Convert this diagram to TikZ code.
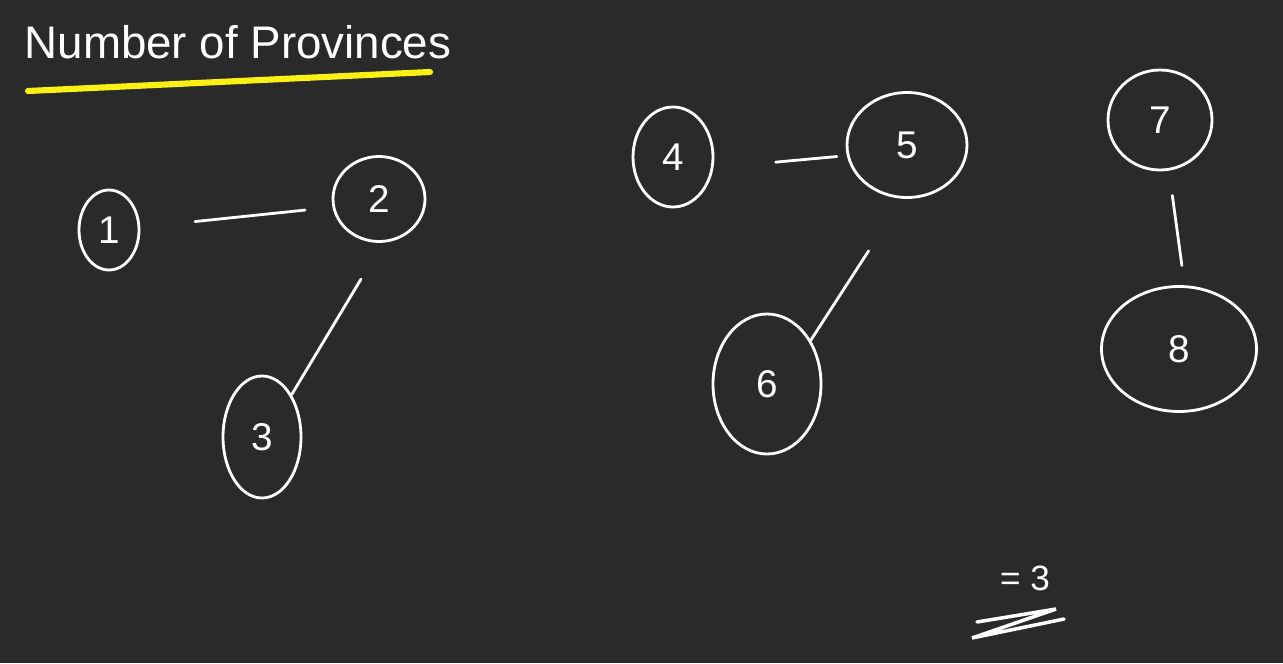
\documentclass[tikz,border=0pt]{standalone}
\usepackage{fontspec}
\setmainfont{Liberation Sans}
\usetikzlibrary{shapes.geometric}
\definecolor{board}{RGB}{42,42,42}
\definecolor{marker}{RGB}{250,240,20}
\begin{document}
\begin{tikzpicture}
[x=0.02cm,y=-0.02cm,
  nodedecorate/.style={shape=ellipse,inner sep=0pt,draw=white,line width=1.6pt,
    text=white,font=\fontsize{22}{24}\selectfont},%
  linedecorate/.style={-,draw=white,line width=1.6pt,line cap=round}]
\fill[board] (0,0) rectangle (1283,663);
\useasboundingbox (0,0) rectangle (1283,663);
%% title
\node (title) at (238,42) [text=white,font=\fontsize{26}{28}\selectfont] {Number of Provinces};
\draw[marker,line width=3.5pt,line cap=round] (28,91) -- (430,72);
%% nodes or vertices
\foreach \nodename/\x/\y/\w/\h in {1/109/230/60/80, 2/379/199/92/85,
  3/262/437/78/122, 4/673/157/80/100, 5/907/145/120/105,
  6/767/384/108/140, 7/1160/120/104/100, 8/1179/349/155/125} {
  \node (\nodename) at (\x,\y) [nodedecorate,minimum width=\w*0.02cm,
    minimum height=\h*0.02cm] {\nodename};
}
%% edges or lines
\foreach \startnode/\sa/\endnode/\ea/\gapa/\gapb in {1/5/2/190/1.1/0.55,
  2/275/3/55/0.85/0, 4/-15/5/190/1.25/0.2, 5/265/6/45/1.24/0,
  7/-80/8/85/0.5/0.4} {
  \draw[linedecorate,shorten <=\gapa cm,shorten >=\gapb cm]
    (\startnode.\sa) -- (\endnode.\ea);
}
%% answer
\node (answer) at (1025,578) [text=white,font=\fontsize{20}{22}\selectfont] {= 3};
\draw[white,line width=2pt,line cap=round] (977,622) -- (1056,609) -- (972,638) -- (1064,619);
\end{tikzpicture}
\end{document}
